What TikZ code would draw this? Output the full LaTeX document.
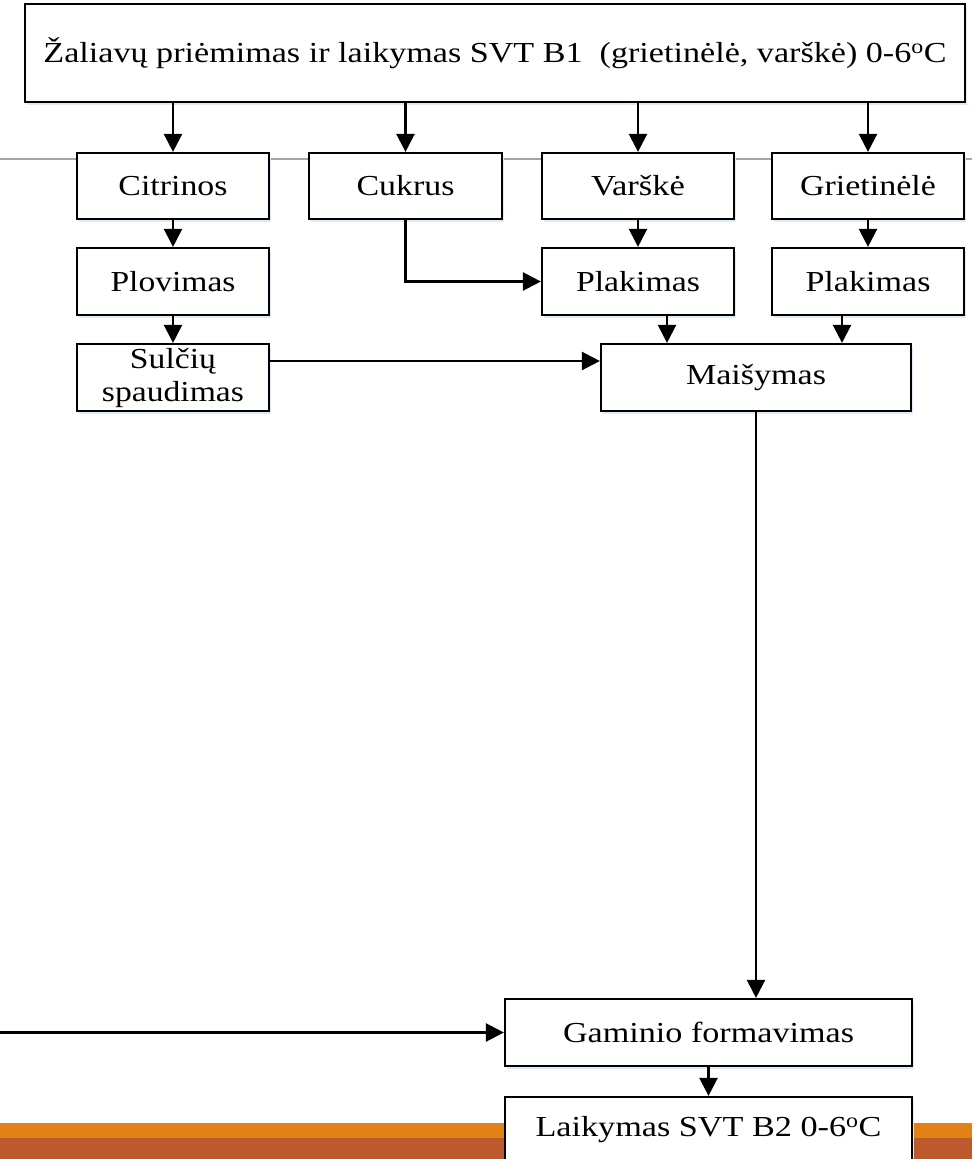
\documentclass[tikz,border=0pt]{standalone}
\usepackage{fontspec}
\setmainfont{Liberation Serif}
\usetikzlibrary{arrows.meta,shadows,calc}
\newcommand{\tw}[2]{\resizebox{#1pt}{\height}{#2}}
\definecolor{barorange}{RGB}{227,130,20}
\definecolor{barrust}{RGB}{189,90,45}
\definecolor{shadowblue}{RGB}{224,233,246}
\definecolor{rulegray}{RGB}{165,165,165}
\begin{document}
\begin{tikzpicture}[x=1pt,y=-1pt,
  box/.style={draw=black, line width=2.2pt, fill=white, inner sep=0pt, align=center,
    font=\fontsize{29}{33}\selectfont,
    drop shadow={shadow xshift=2pt, shadow yshift=-3pt, fill=shadowblue, opacity=1}},
  arr/.style={line width=2.4pt, -{Triangle[length=18pt,width=18pt]}},
  ]
\useasboundingbox (0,0) rectangle (972,1159);
% footer bars
\fill[barorange] (0,1123) rectangle (972,1138);
\fill[barrust] (0,1138) rectangle (972,1159);
% thin grey rule behind the second row
\draw[rulegray, line width=1.2pt] (0,159) -- (972,159);

\node[box, minimum width=940pt, minimum height=98pt] (top) at (495,53)
  {\tw{903}{Žaliavų priėmimas ir laikymas SVT B1\ \ (grietinėlė, varškė) 0-6\textsuperscript{o}C}};

\node[box, minimum width=192pt, minimum height=66pt] (cit) at (173,186) {\tw{109}{Citrinos}};
\node[box, minimum width=193pt, minimum height=66pt] (cuk) at (405.5,186) {\tw{98}{Cukrus}};
\node[box, minimum width=192pt, minimum height=66pt] (var) at (638,186) {\tw{94}{Varškė}};
\node[box, minimum width=192pt, minimum height=66pt] (gri) at (868,186) {\tw{136}{Grietinėlė}};

\node[box, minimum width=192pt, minimum height=67pt] (plo) at (173,281.5) {\tw{125}{Plovimas}};
\node[box, minimum width=192pt, minimum height=67pt] (pv) at (638,281.5) {\tw{124}{Plakimas}};
\node[box, minimum width=192pt, minimum height=67pt] (pg) at (868,281.5) {\tw{125}{Plakimas}};

\node[box, minimum width=192pt, minimum height=67pt] (sul) at (173,377.5) {\tw{86}{Sulčių}\\\tw{142}{spaudimas}};
\node[box, minimum width=310pt, minimum height=67pt] (mix) at (756,377.5) {\tw{140}{Maišymas}};

\node[box, minimum width=407pt, minimum height=67pt] (gam) at (708.5,1032.5) {\tw{291}{Gaminio formavimas}};
\node[box, minimum width=407pt, minimum height=66pt] (lai) at (708.5,1130) {\tw{346}{Laikymas SVT B2 0-6\textsuperscript{o}C}};

\coordinate (inl) at (0,1032.5);

% connectors
\draw[arr] (top.south -| cit.north) -- (cit.north);
\draw[arr] (top.south -| cuk.north) -- (cuk.north);
\draw[arr] (top.south -| var.north) -- (var.north);
\draw[arr] (top.south -| gri.north) -- (gri.north);

\draw[arr] (cit.south) -- (plo.north);
\draw[arr] (plo.south) -- (sul.north);
\draw[arr] (cuk.south) |- (pv.west);
\draw[arr] (var.south) -- (pv.north);
\draw[arr] (gri.south) -- (pg.north);

\draw[arr] ([xshift=29pt]pv.south) -- ([xshift=29pt]pv.south |- mix.north);
\draw[arr] ([xshift=-26pt]pg.south) -- ([xshift=-26pt]pg.south |- mix.north);
\draw[arr] ([yshift=16.5pt]sul.east) -- ([yshift=16.5pt]sul.east -| mix.west);

\draw[arr] (mix.south) -- (mix.south |- gam.north);
\draw[arr] (inl) -- (gam.west);
\draw[arr] (gam.south) -- (lai.north);
\end{tikzpicture}
\end{document}
